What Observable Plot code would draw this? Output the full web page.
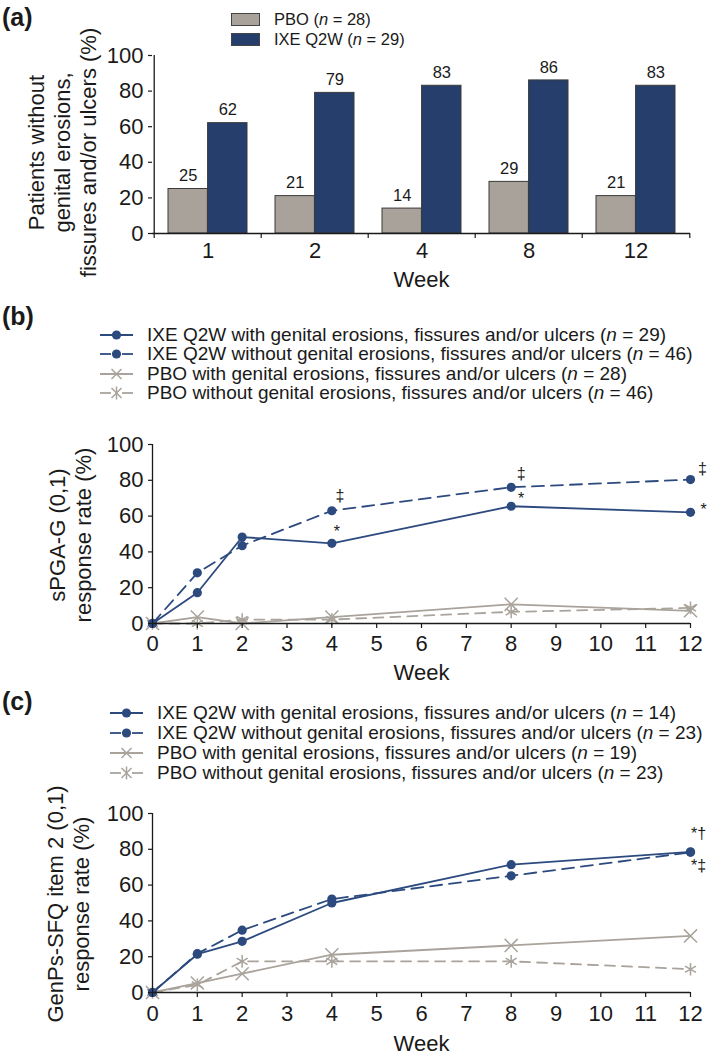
<!DOCTYPE html>
<html><head><meta charset="utf-8">
<script src="https://cdn.jsdelivr.net/npm/d3@7"></script>
<script src="https://cdn.jsdelivr.net/npm/@observablehq/plot@0.6"></script>
<style>
body{margin:0;background:#fff;}
#fig{position:relative;width:709px;height:1057px;font-family:"Liberation Sans",Arial,sans-serif;color:#1a1a1a;overflow:hidden;}
.panel{position:absolute;left:0;}
.tag{position:absolute;left:2px;font-weight:bold;font-size:25px;line-height:1;}
.leg{position:absolute;white-space:nowrap;}
.row{display:flex;align-items:center;}
.row svg{flex:none;}
</style></head>
<body><div id="fig"></div>
<script>
// ---------- data ----------
const weeksA = ["1", "2", "4", "8", "12"];
const pboA = [25, 21, 14, 29, 21];
const ixeA = [62, 79, 83, 86, 83];
const seriesNamesA = ["PBO (<i>n</i> = 28)", "IXE Q2W (<i>n</i> = 29)"];

const weeksLine = [0, 1, 2, 4, 8, 12];
const xTicks = [0, 1, 2, 3, 4, 5, 6, 7, 8, 9, 10, 11, 12];
const yTicks = [0, 20, 40, 60, 80, 100];

const ixeWithB = [0, 17.2, 48.3, 44.8, 65.5, 62.1];
const ixeWithoutB = [0, 28.3, 43.5, 63.0, 76.1, 80.4];
const pboWithB = [0, 3.6, 0, 3.6, 10.7, 7.1];
const pboWithoutB = [0, 0, 2.2, 2.2, 6.5, 8.7];
const legendB = [
  "IXE Q2W with genital erosions, fissures and/or ulcers (<i>n</i> = 29)",
  "IXE Q2W without genital erosions, fissures and/or ulcers (<i>n</i> = 46)",
  "PBO with genital erosions, fissures and/or ulcers (<i>n</i> = 28)",
  "PBO without genital erosions, fissures and/or ulcers (<i>n</i> = 46)"
];

const ixeWithC = [0, 21.4, 28.6, 50.0, 71.4, 78.6];
const ixeWithoutC = [0, 21.7, 34.8, 52.2, 65.2, 78.3];
const pboWithC = [0, 5.3, 10.5, 21.1, 26.3, 31.6];
const pboWithoutC = [0, 4.3, 17.4, 17.4, 17.4, 13.0];
const legendC = [
  "IXE Q2W with genital erosions, fissures and/or ulcers (<i>n</i> = 14)",
  "IXE Q2W without genital erosions, fissures and/or ulcers (<i>n</i> = 23)",
  "PBO with genital erosions, fissures and/or ulcers (<i>n</i> = 19)",
  "PBO without genital erosions, fissures and/or ulcers (<i>n</i> = 23)"
];

// ---------- styles ----------
const FONT = '"Liberation Sans", Arial, sans-serif';
const NAVY_BAR = "#253e6b", GRAY_BAR = "#a9a29a", OUTLINE = "#3a3a3a";
const NAVY = "#2d4a7f", GRAY = "#a9a39c", INK = "#1a1a1a";
const W = 709, ML = 152, MR = 19;
const TICK_FS = 22, TITLE_FS = 22;

const fig = document.getElementById("fig");
function add(html, cls, css) {
  const d = document.createElement("div");
  d.className = cls; d.innerHTML = html; Object.assign(d.style, css); fig.appendChild(d); return d;
}
function place(svg, top) {
  svg.classList.add("panel"); svg.style.top = top + "px"; fig.appendChild(svg);
}

// ---------- panel (a) ----------
const pIn = 0.264;
const stepA = (W - ML - MR) / weeksA.length;
const bwA = stepA * (1 - pIn);
const pboData = weeksA.map((w, i) => ({week: w, value: pboA[i]}));
const ixeData = weeksA.map((w, i) => ({week: w, value: ixeA[i]}));

const plotA = Plot.plot({
  width: W, height: 300, marginLeft: ML, marginRight: MR, marginTop: 55, marginBottom: 67,
  style: {fontFamily: FONT, fontSize: TICK_FS + "px", color: INK, background: "transparent", overflow: "visible"},
  x: {domain: weeksA, paddingInner: pIn, paddingOuter: pIn / 2, axis: null, label: null},
  y: {domain: [0, 100], axis: null, label: null},
  marks: [
    Plot.barY(pboData, {x: "week", y: "value", fill: GRAY_BAR, stroke: OUTLINE, strokeWidth: 1, insetRight: bwA / 2}),
    Plot.barY(ixeData, {x: "week", y: "value", fill: NAVY_BAR, stroke: OUTLINE, strokeWidth: 1, insetLeft: bwA / 2}),
    Plot.text(pboData, {x: "week", y: "value", text: d => String(d.value), dx: -bwA / 4, dy: -13, fontSize: 16.5, fill: INK, lineAnchor: "middle"}),
    Plot.text(ixeData, {x: "week", y: "value", text: d => String(d.value), dx: bwA / 4, dy: -13, fontSize: 16.5, fill: INK, lineAnchor: "middle"}),
    Plot.ruleY([0], {stroke: INK, strokeWidth: 1.3}),
    Plot.ruleX([weeksA[0]], {dx: -stepA / 2, stroke: INK, strokeWidth: 1.3}),
    Plot.axisX({ticks: weeksA, tickSize: 5, text: null, label: null, dx: -stepA / 2, stroke: INK, strokeWidth: 1.2}),
    Plot.axisX({ticks: [weeksA[weeksA.length - 1]], tickSize: 5, text: null, label: null, dx: stepA / 2, stroke: INK, strokeWidth: 1.2}),
    Plot.axisX({tickSize: 0, tickPadding: 9, fontSize: TICK_FS, label: null, fill: INK}),
    Plot.axisY({ticks: yTicks, tickSize: 4, tickPadding: 5, fontSize: TICK_FS, label: null, fill: INK, stroke: INK, strokeWidth: 1.2}),
    Plot.text(["Week"], {text: d => d, frameAnchor: "bottom", dy: 46, fontSize: TITLE_FS, lineAnchor: "middle", fill: INK}),
    Plot.text(["Patients without\ngenital erosions,\nfissures and/or ulcers (%)"], {text: d => d, frameAnchor: "left", rotate: -90, dx: -91, dy: 8, fontSize: TITLE_FS, lineHeight: 1.18, textAnchor: "middle", lineAnchor: "middle", fill: INK})
  ]
});
place(plotA, 0);
add("(a)", "tag", {top: "5px"});
add(
  seriesNamesA.map((t, i) => `<div class="row" style="height:20.5px"><span style="display:inline-block;width:27px;height:11px;border:1px solid #444;background:${i ? NAVY_BAR : GRAY_BAR};margin-right:14px"></span><span style="font-size:16.5px">${t}</span></div>`).join(""),
  "leg", {left: "231px", top: "9px"}
);

// ---------- line panels ----------
function swatch(kind) {
  const w = 33, h = 14, cy = 7, cx = 16.5;
  let line, mk;
  const col = kind.startsWith("ixe") ? NAVY : GRAY;
  if (kind.endsWith("Without")) line = `<line x1="0" y1="${cy}" x2="11" y2="${cy}" stroke="${col}" stroke-width="1.8"/><line x1="22" y1="${cy}" x2="33" y2="${cy}" stroke="${col}" stroke-width="1.8"/>`;
  else line = `<line x1="0" y1="${cy}" x2="${w}" y2="${cy}" stroke="${col}" stroke-width="1.8"/>`;
  if (kind.startsWith("ixe")) mk = `<circle cx="${cx}" cy="${cy}" r="4.6" fill="${NAVY}"/>`;
  else {
    const s = 5;
    mk = `<path d="M${cx - s},${cy - s}L${cx + s},${cy + s}M${cx - s},${cy + s}L${cx + s},${cy - s}" stroke="${GRAY}" stroke-width="1.5"/>`;
    if (kind === "pboWithout") mk += `<path d="M${cx},${cy - 6.5}L${cx},${cy + 6.5}" stroke="${GRAY}" stroke-width="1.5"/>`;
  }
  return `<svg width="${w}" height="${h}" style="margin-right:14px">${line}${mk}</svg>`;
}
function legend(texts, left, top, rowH) {
  const kinds = ["ixeWith", "ixeWithout", "pboWith", "pboWithout"];
  add(texts.map((t, i) => `<div class="row" style="height:${rowH}px">${swatch(kinds[i])}<span style="font-size:19px">${t}</span></div>`).join(""),
    "leg", {left: left + "px", top: top + "px"});
}

function linePanel({top, height, marginTop, marginBottom, series, notes, yLabel, labelDx, labelDy, weekDy, tickPad}) {
  const rows = (vals) => weeksLine.map((w, i) => ({week: w, value: vals[i]}));
  const [iw, iwo, pw, pwo] = series.map(rows);
  const at = (vals, w) => [{week: w, value: vals[weeksLine.indexOf(w)]}];
  const noteMarks = notes.map(([vals, w, label, dx, dy]) =>
    Plot.text(at(vals, w), {x: "week", y: "value", text: () => label, dx, dy, fontSize: 16, fill: INK, lineAnchor: "middle"}));
  const plot = Plot.plot({
    width: W, height, marginLeft: ML, marginRight: MR, marginTop, marginBottom,
    style: {fontFamily: FONT, fontSize: TICK_FS + "px", color: INK, background: "transparent", overflow: "visible"},
    x: {domain: [0, 12], axis: null, label: null},
    y: {domain: [0, 100], axis: null, label: null},
    marks: [
      Plot.line(pwo, {x: "week", y: "value", stroke: GRAY, strokeWidth: 1.8, strokeDasharray: "10,7"}),
      Plot.line(pw, {x: "week", y: "value", stroke: GRAY, strokeWidth: 1.8}),
      Plot.dot(pwo, {x: "week", y: "value", symbol: "asterisk", r: 6, stroke: GRAY, strokeWidth: 1.5}),
      Plot.dot(pw, {x: "week", y: "value", symbol: "times", r: 6, stroke: GRAY, strokeWidth: 1.5}),
      Plot.line(iwo, {x: "week", y: "value", stroke: NAVY, strokeWidth: 1.8, strokeDasharray: "12,7"}),
      Plot.line(iw, {x: "week", y: "value", stroke: NAVY, strokeWidth: 1.8}),
      Plot.dot(iwo, {x: "week", y: "value", r: 4.6, fill: NAVY}),
      Plot.dot(iw, {x: "week", y: "value", r: 4.6, fill: NAVY}),
      Plot.ruleY([0], {stroke: INK, strokeWidth: 1.3}),
      Plot.ruleX([0], {stroke: INK, strokeWidth: 1.3}),
      Plot.axisX({ticks: xTicks, tickSize: 5, tickPadding: tickPad, tickFormat: d => String(d), fontSize: TICK_FS, label: null, fill: INK, stroke: INK, strokeWidth: 1.2}),
      Plot.axisY({ticks: yTicks, tickSize: 4, tickPadding: 5, fontSize: TICK_FS, label: null, fill: INK, stroke: INK, strokeWidth: 1.2}),
      Plot.text(["Week"], {text: d => d, frameAnchor: "bottom", dy: weekDy, fontSize: TITLE_FS, lineAnchor: "middle", fill: INK}),
      Plot.text([yLabel], {text: d => d, frameAnchor: "left", rotate: -90, dx: labelDx, dy: labelDy, fontSize: TITLE_FS, lineHeight: 1.15, textAnchor: "middle", lineAnchor: "middle", fill: INK}),
      ...noteMarks
    ]
  });
  place(plot, top);
}

// ---------- panel (b) ----------
add("(b)", "tag", {top: "304px"});
legend(legendB, 100, 325, 19.5);
linePanel({
  top: 300, height: 390, marginTop: 144, marginBottom: 67,
  series: [ixeWithB, ixeWithoutB, pboWithB, pboWithoutB],
  notes: [
    [ixeWithoutB, 4, "‡", 8, -14.5],
    [ixeWithB, 4, "*", 5, -11.5],
    [ixeWithoutB, 8, "‡", 10, -13],
    [ixeWithB, 8, "*", 10, -7],
    [ixeWithoutB, 12, "‡", 12, -11],
    [ixeWithB, 12, "*", 13, -2]
  ],
  yLabel: "sPGA-G (0,1)\nresponse rate (%)", labelDx: -82.5, labelDy: 1, weekDy: 49, tickPad: 7
});

// ---------- panel (c) ----------
add("(c)", "tag", {top: "689px"});
legend(legendC, 110, 703, 20);
linePanel({
  top: 690, height: 367, marginTop: 123, marginBottom: 65,
  series: [ixeWithC, ixeWithoutC, pboWithC, pboWithoutC],
  notes: [
    [ixeWithC, 12, "*†", 8, -18],
    [ixeWithoutC, 12, "*‡", 8, 14]
  ],
  yLabel: "GenPs-SFQ item 2 (0,1)\nresponse rate (%)", labelDx: -84.5, labelDy: 1, weekDy: 51, tickPad: 8
});
</script>
</body></html>
